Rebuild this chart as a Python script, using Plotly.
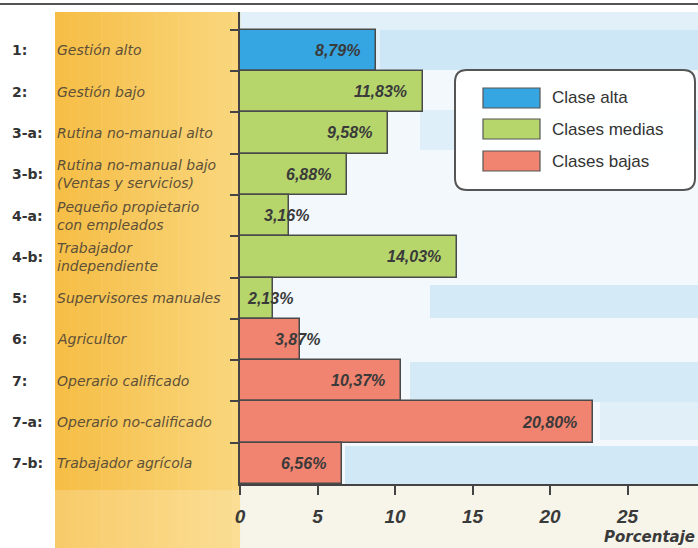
import plotly.graph_objects as go

# ---------------- data ----------------
codes = ["1:", "2:", "3-a:", "3-b:", "4-a:", "4-b:", "5:", "6:", "7:", "7-a:", "7-b:"]
categories = [
    "Gestión alto",
    "Gestión bajo",
    "Rutina no-manual alto",
    "Rutina no-manual bajo<br>(Ventas y servicios)",
    "Pequeño propietario<br>con empleados",
    "Trabajador<br>independiente",
    "Supervisores manuales",
    "Agricultor",
    "Operario calificado",
    "Operario no-calificado",
    "Trabajador agrícola",
]
values = [8.79, 11.83, 9.58, 6.88, 3.16, 14.03, 2.13, 3.87, 10.37, 22.80, 6.56]
value_labels = ["8,79%", "11,83%", "9,58%", "6,88%", "3,16%", "14,03%",
                "2,13%", "3,87%", "10,37%", "20,80%", "6,56%"]
classes = ["Clase alta", "Clases medias", "Clases medias", "Clases medias",
           "Clases medias", "Clases medias", "Clases medias", "Clases bajas",
           "Clases bajas", "Clases bajas", "Clases bajas"]
class_names = ["Clase alta", "Clases medias", "Clases bajas"]
x_ticks = [0, 5, 10, 15, 20, 25]
x_title = "Porcentaje"

# ---------------- style ----------------
W, H = 698, 548
ML, MR, MT, MB = 240, 0, 12, 64
PW, PH = W - ML - MR, H - MT - MB
class_colors = {"Clase alta": "#36a6e2", "Clases medias": "#b6d66c", "Clases bajas": "#f08470"}
NARROW = "Liberation Sans Narrow, Arial Narrow, Liberation Sans, sans-serif"
WIDE = "DejaVu Sans, Liberation Sans, sans-serif"
ARIAL = "Liberation Sans, Arial, sans-serif"
INK = "#333333"


def px(x):
    return (x - ML) / PW


def py(y):
    return (H - MB - y) / PH


fig = go.Figure()
for cname in class_names:
    xs = [v for v, c in zip(values, classes) if c == cname]
    ys = [k for k, c in zip(categories, classes) if c == cname]
    fig.add_trace(go.Bar(
        x=xs, y=ys, orientation="h", name=cname,
        marker=dict(color=class_colors[cname], line=dict(color="#4a4a4a", width=1.5)),
        showlegend=False, hoverinfo="x+y",
    ))

shapes = []
# top rule
shapes.append(dict(type="line", xref="paper", yref="paper", x0=px(0), x1=px(W),
                   y0=py(4), y1=py(4), line=dict(color="#555555", width=2), layer="above"))
# orange panel behind the labels (horizontal gradient by strips)
n = 24
x_left, x_right = 55, 240
c0 = (246, 190, 70)
c1 = (250, 215, 125)
for i in range(n):
    t = i / (n - 1)
    col = "rgb(%d,%d,%d)" % tuple(int(a + (b - a) * t) for a, b in zip(c0, c1))
    xa = x_left + (x_right - x_left) * i / n
    xb = x_left + (x_right - x_left) * (i + 1) / n + 0.5
    shapes.append(dict(type="rect", xref="paper", yref="paper", x0=px(xa), x1=px(xb),
                       y0=py(12), y1=py(H), fillcolor=col, line=dict(width=0), layer="below"))
# lighter bottom fade of panel
shapes.append(dict(type="rect", xref="paper", yref="paper", x0=px(x_left), x1=px(x_right),
                   y0=py(H), y1=py(490), fillcolor="rgba(255,245,215,0.25)",
                   line=dict(width=0), layer="below"))
# sky-like streaks in the plot area
streaks = [
    (240, 698, 12, 70, "rgba(215,235,247,0.6)"),
    (380, 698, 30, 70, "rgba(170,215,240,0.35)"),
    (420, 698, 110, 150, "rgba(180,220,242,0.3)"),
    (430, 698, 285, 318, "rgba(160,210,238,0.35)"),
    (410, 698, 362, 402, "rgba(160,210,238,0.35)"),
    (600, 698, 402, 440, "rgba(185,220,240,0.3)"),
    (345, 698, 446, 484, "rgba(160,210,238,0.4)"),
    (240, 698, 484, H, "rgba(246,244,232,0.9)"),
]
for x0, x1, y0, y1, col in streaks:
    shapes.append(dict(type="rect", xref="paper", yref="paper", x0=px(x0), x1=px(x1),
                       y0=py(y1), y1=py(y0), fillcolor=col, line=dict(width=0), layer="below"))

# manual legend: rounded box
bx0, bx1, by0, by1, r = 455, 695, 70, 190, 12
rx, ry = r / PW, r / PH
X0, X1, Y0, Y1 = px(bx0), px(bx1), py(by1), py(by0)
path = (f"M {X0+rx},{Y1} L {X1-rx},{Y1} Q {X1},{Y1} {X1},{Y1-ry} L {X1},{Y0+ry} "
        f"Q {X1},{Y0} {X1-rx},{Y0} L {X0+rx},{Y0} Q {X0},{Y0} {X0},{Y0+ry} "
        f"L {X0},{Y1-ry} Q {X0},{Y1} {X0+rx},{Y1} Z")
shapes.append(dict(type="path", xref="paper", yref="paper", path=path,
                   fillcolor="rgba(255,255,255,0.95)", line=dict(color="#555555", width=2),
                   layer="above"))

annotations = []
leg_y = [98, 129, 161]
for cname, yc in zip(class_names, leg_y):
    shapes.append(dict(type="rect", xref="paper", yref="paper", x0=px(483), x1=px(540),
                       y0=py(yc + 10), y1=py(yc - 10), fillcolor=class_colors[cname],
                       line=dict(color="#555555", width=1.2), layer="above"))
    annotations.append(dict(xref="paper", yref="paper", x=px(550), y=py(yc), text=cname,
                            showarrow=False, xanchor="left", yanchor="middle",
                            font=dict(family=NARROW, size=17, color=INK)))

# category labels
for code, cat in zip(codes, categories):
    annotations.append(dict(xref="paper", yref="y", x=px(10), y=cat, text="<b>%s</b>" % code,
                            showarrow=False, xanchor="left", yanchor="middle",
                            font=dict(family=WIDE, size=14, color=INK)))
    annotations.append(dict(xref="paper", yref="y", x=px(55), y=cat, text="<i>%s</i>" % cat,
                            showarrow=False, xanchor="left", yanchor="middle", align="left",
                            font=dict(family=WIDE, size=14, color="#5e5038")))

# value labels inside bars
for cat, v, lab in zip(categories, values, value_labels):
    annotations.append(dict(xref="x", yref="y", x=v, y=cat, text="<b><i>%s</i></b>" % lab,
                            showarrow=False, xanchor="right", yanchor="middle",
                            xshift=-14 if v > 5 else 22,
                            font=dict(family=ARIAL, size=16, color="#3a3a3a")))

annotations.append(dict(xref="paper", yref="paper", x=px(697), y=py(537),
                        text="<b><i>%s</i></b>" % x_title, showarrow=False,
                        xanchor="right", yanchor="middle",
                        font=dict(family=WIDE, size=15, color="#3a3a3a")))

n_cat = len(categories)
fig.update_layout(
    width=W, height=H,
    margin=dict(l=ML, r=MR, t=MT, b=MB),
    paper_bgcolor="white",
    plot_bgcolor="#f2f8fc",
    bargap=0.0,
    barmode="overlay",
    shapes=shapes,
    annotations=annotations,
    xaxis=dict(range=[0, PW / 15.5], tickvals=x_ticks,
               ticktext=["<b><i>%d</i></b>" % t for t in x_ticks],
               ticks="outside", ticklen=9, tickwidth=2, tickcolor="#444444",
               showline=True, linecolor="#444444", linewidth=2,
               showgrid=False, zeroline=False, ticklabelstandoff=5,
               tickfont=dict(family=ARIAL, size=19, color="#3a3a3a")),
    yaxis=dict(type="category", categoryorder="array", categoryarray=categories,
               range=[n_cat - 0.5, -0.93], showticklabels=False,
               ticks="outside", tickson="boundaries", ticklen=8, tickwidth=2,
               tickcolor="#444444", showline=True, linecolor="#444444", linewidth=2,
               showgrid=False, zeroline=False),
)

fig.write_html("out.html", config={"displayModeBar": False},
               post_script="document.body.style.margin='0';document.body.style.padding='0';")
